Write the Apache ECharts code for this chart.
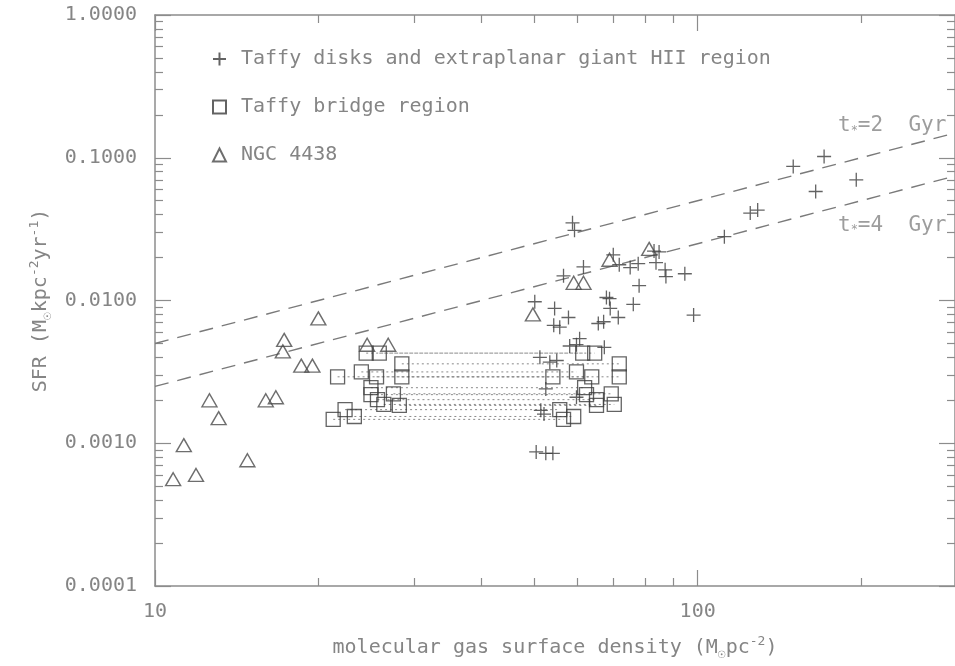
<!DOCTYPE html>
<html><head><meta charset="utf-8">
<script src="https://cdn.jsdelivr.net/npm/echarts@6/dist/echarts.min.js"></script>
<style>html,body{margin:0;padding:0;background:#fff}#c{width:955px;height:666px}</style>
</head><body><div id="c"></div>
<script>
// ---- axis ticks ----
const xMajorTicks = [10, 100];
const xMinorTicks = [20, 30, 40, 50, 60, 70, 80, 90, 200];
const yMajorTicks = [0.0001, 0.001, 0.01, 0.1, 1];
const yMinorTicks = [0.0002,0.0003,0.0004,0.0005,0.0006,0.0007,0.0008,0.0009,
                     0.002,0.003,0.004,0.005,0.006,0.007,0.008,0.009,
                     0.02,0.03,0.04,0.05,0.06,0.07,0.08,0.09,
                     0.2,0.3,0.4,0.5,0.6,0.7,0.8,0.9];
const xRange = [10, 298];
const yRange = [0.0001, 1];

// ---- Taffy disks and extraplanar giant HII region (+) ----
const diskGas = [171,150,196,165,125,129,112,58.8,59.3,61.6,56.6,50.1,54.5,57.8,54.3,55.7,
                 67.9,68.8,69.0,71.4,65.6,67.1,71.7,75.1,77.7,83.1,84.9,83.8,87.1,87.4,94.7,
                 78.0,76.1,98.3,60.6,58.1,59.8,67.3,51.2,53.4,55.0,52.5,59.8,51.4,52.1,50.4,52.5,54.1,69.9];
const diskSfr = [0.102,0.087,0.070,0.058,0.041,0.043,0.028,0.035,0.031,0.0172,0.0149,0.0098,0.0088,0.0076,0.0067,0.0065,
                 0.0105,0.0103,0.0088,0.0076,0.0069,0.0071,0.0178,0.0170,0.0181,0.0222,0.0219,0.0184,0.0164,0.0147,0.0154,
                 0.0127,0.0094,0.0079,0.0054,0.0048,0.0049,0.0047,0.0040,0.0037,0.0038,0.0024,0.0021,0.0017,0.0016,0.00087,0.00085,0.00085,0.0209];

// ---- Taffy bridge region (squares), two gas estimates per SFR ----
const bridgeSfr     = [0.00428,0.00428,0.00360,0.00316,0.00292,0.00292,0.00292,0.00245,0.00219,0.00222,0.00202,0.00187,0.00184,0.00172,0.00147,0.00154];
const bridgeGasLow  = [24.5,25.9,28.5,24.0,21.7,25.6,28.5,25.0,25.0,27.5,25.7,26.4,28.2,22.4,21.3,23.3];
const bridgeGasHigh = [61.4,64.6,71.7,59.8,54.1,71.7,63.8,61.9,62.4,69.3,65.1,70.2,65.1,55.7,56.6,59.1];

// ---- NGC 4438 (triangles) ----
const ngcGas = [20.0,17.3,17.2,18.6,19.5,12.6,13.1,16.0,16.7,11.3,14.8,10.8,11.9,24.6,26.9,49.7,59.1,61.6,68.8,81.4];
const ngcSfr = [0.0075,0.0053,0.0044,0.0035,0.0035,0.0020,0.0015,0.0020,0.0021,0.00097,0.00076,0.00056,0.0006,0.0049,0.0049,0.0080,0.0133,0.0133,0.0193,0.0230];

// ---- constant depletion time lines ----
const modelGas = [10, 298];
const sfr2Gyr = [0.005, 0.149];
const sfr4Gyr = [0.0025, 0.0745];
const modelLabelGas = [181, 181];
const modelLabelSfr = [0.1668, 0.0337];
const modelLabels = ['2', '4'];

const seriesNames = ['Taffy disks and extraplanar giant HII region', 'Taffy bridge region', 'NGC 4438'];

const FONT = 'DejaVu Sans Mono';
const AX = '#8c8c8c';
const TXT = '#858585';
const MK = '#3c3c3c';
const PLUS = 'path://M0,-1L0,1M-1,0L1,0';

function zip(a, b) { return a.map((v, i) => [v, b[i]]); }

function xAx(pos, ticks, len, main) {
  return {
    type: 'log', logBase: 10, min: xRange[0], max: xRange[1], position: pos,
    axisLine: { show: main, lineStyle: { color: AX, width: 1.5 } },
    axisTick: { show: true, inside: true, length: len, customValues: ticks, lineStyle: { color: AX, width: 1.2 } },
    axisLabel: { show: false },
    splitLine: { show: false }
  };
}
function yAx(pos, ticks, len, main) {
  return {
    type: 'log', logBase: 10, min: yRange[0], max: yRange[1], position: pos,
    axisLine: { show: main, lineStyle: { color: AX, width: 1.5 } },
    axisTick: { show: true, inside: true, length: len, customValues: ticks, lineStyle: { color: AX, width: 1.2 } },
    axisLabel: { show: false },
    splitLine: { show: false }
  };
}

const nameStyle = { fontSize: 20, color: TXT, fontFamily: FONT, lineHeight: 26,
  rich: { sub: { fontSize: 13, verticalAlign: 'bottom', lineHeight: 13, color: TXT, fontFamily: FONT },
          sup: { fontSize: 13, verticalAlign: 'top', lineHeight: 13, color: TXT, fontFamily: FONT } } };

const xAxes = [xAx('bottom', xMajorTicks, 16, true), xAx('bottom', xMinorTicks, 8, false),
               xAx('top', xMajorTicks, 16, true), xAx('top', xMinorTicks, 8, false)];
xAxes[0].axisLabel = { show: true, customValues: xMajorTicks, margin: 16, fontSize: 20, color: TXT, fontFamily: FONT,
  formatter: v => String(Math.round(v)) };
xAxes[0].name = 'molecular gas surface density (M{sub|☉}pc{sup|-2})';
xAxes[0].nameLocation = 'middle';
xAxes[0].nameGap = 49;
xAxes[0].nameTextStyle = nameStyle;

const yAxes = [yAx('left', yMajorTicks, 16, true), yAx('left', yMinorTicks, 8, false),
               yAx('right', yMajorTicks, 16, true), yAx('right', yMinorTicks, 8, false)];
yAxes[0].axisLabel = { show: true, customValues: yMajorTicks, margin: 18, fontSize: 20, color: TXT, fontFamily: FONT,
  formatter: v => Number(v).toFixed(4) };
yAxes[0].name = 'SFR (M{sub|☉}kpc{sup|-2}yr{sup|-1})';
yAxes[0].nameLocation = 'middle';
yAxes[0].nameRotate = 90;
yAxes[0].nameGap = 100;
yAxes[0].nameTextStyle = nameStyle;

const series = [];
bridgeSfr.forEach((s, i) => {
  series.push({ type: 'line', xAxisIndex: 0, yAxisIndex: 0, symbol: 'none', silent: true, z: 1,
    lineStyle: { color: '#8a8a8a', width: 1, type: [2, 3] },
    data: [[bridgeGasLow[i], s], [bridgeGasHigh[i], s]] });
});
series.push({ type: 'line', symbol: 'none', z: 1, silent: true,
  lineStyle: { color: '#7a7a7a', width: 1.4, type: [14, 9] }, data: zip(modelGas, sfr2Gyr) });
series.push({ type: 'line', symbol: 'none', z: 1, silent: true,
  lineStyle: { color: '#7a7a7a', width: 1.4, type: [14, 9] }, data: zip(modelGas, sfr4Gyr) });
series.push({ type: 'scatter', symbol: 'circle', symbolSize: 1, z: 3, silent: true,
  itemStyle: { color: 'rgba(0,0,0,0)' },
  data: modelLabelGas.map((g, i) => ({ value: [g, modelLabelSfr[i]], label: {
    show: true, position: 'right', distance: 0,
    formatter: 't{s|*}=' + modelLabels[i] + '  Gyr',
    fontSize: 21, color: TXT, fontFamily: FONT,
    rich: { s: { fontSize: 12, verticalAlign: 'bottom', lineHeight: 12, color: TXT, fontFamily: FONT } } } })) });
series.push({ name: seriesNames[0], type: 'scatter', symbol: PLUS, symbolSize: 14, z: 4,
  itemStyle: { color: 'transparent', borderColor: MK, borderWidth: 1.3 }, data: zip(diskGas, diskSfr) });
series.push({ name: seriesNames[1], type: 'scatter', symbol: 'rect', symbolSize: 14, z: 4,
  itemStyle: { color: 'transparent', borderColor: MK, borderWidth: 1.3 },
  data: zip(bridgeGasLow, bridgeSfr).concat(zip(bridgeGasHigh, bridgeSfr)) });
series.push({ name: seriesNames[2], type: 'scatter', symbol: 'triangle', symbolSize: [15, 13], z: 4,
  itemStyle: { color: 'transparent', borderColor: '#4a4a4a', borderWidth: 1.4 }, data: zip(ngcGas, ngcSfr) });

const chart = echarts.init(document.getElementById('c'), null, { renderer: 'canvas' });
chart.setOption({
  animation: false,
  backgroundColor: '#fff',
  grid: { left: 155, top: 15, width: 806, height: 576, containLabel: false },
  xAxis: xAxes,
  yAxis: yAxes,
  legend: {
    data: seriesNames, orient: 'vertical', left: 207, top: 44, itemGap: 28,
    itemWidth: 13, itemHeight: 13, selectedMode: false,
    textStyle: { fontSize: 20, color: TXT, fontFamily: FONT, padding: [0, 0, 0, 10] }
  },
  series: series
});
</script></body></html>
